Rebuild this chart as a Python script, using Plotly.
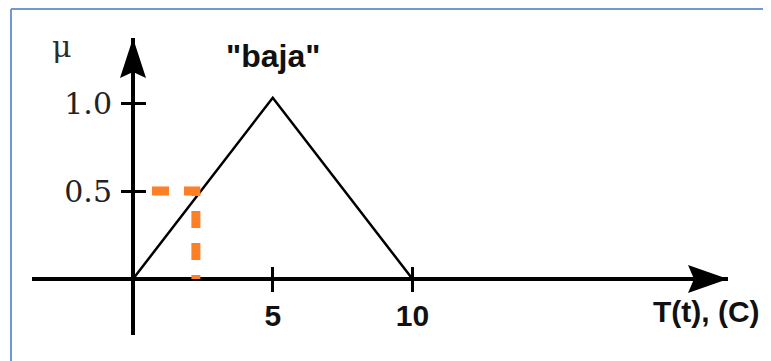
import plotly.graph_objects as go

# ---- data ----
tri_x = [0, 5, 10]
tri_mu = [0, 1.03, 0]
cut_x = [0.68, 2.25, 2.25]
cut_mu = [0.5, 0.5, 0]
x_tick_vals = [5, 10]
x_tick_text = ["5", "10"]
y_tick_vals = [0.5, 1.0]
y_tick_text = ["0.5", "1.0"]
set_label = '"baja"'
x_title = "T(t), (C)"
y_title = "μ"

# ---- geometry (pixels, page coords; the page body adds an 8px offset) ----
OFF = 8
W, H = 771 - OFF, 361 - OFF


def fx(px):   # page x pixel -> paper fraction
    return (px - OFF) / W


def fy(py):   # page y pixel -> paper fraction
    return 1 - (py - OFF) / H


ox, oy = 133, 279          # origin (page px)
px_x, px_y = 27.95, 176    # pixels per unit
xl, xr = 32, 728           # x-axis extent (page px)
yt, yb = 38, 335           # y-axis extent (page px)

x_range = [(xl - ox) / px_x, (xr - ox) / px_x]
y_range = [(oy - yb) / px_y, (oy - yt) / px_y]
x_domain = [fx(xl), fx(xr)]
y_domain = [fy(yb), fy(yt)]

fig = go.Figure()
fig.add_trace(go.Scatter(x=tri_x, y=tri_mu, mode="lines",
                         line=dict(color="black", width=2.5),
                         hoverinfo="skip", showlegend=False))
fig.add_trace(go.Scatter(x=cut_x, y=cut_mu, mode="lines",
                         line=dict(color="#ff7f27", width=9, dash="17px,15px"),
                         hoverinfo="skip", showlegend=False))
# dummies for the crossing-tick overlay axes
fig.add_trace(go.Scatter(x=[None], y=[None], xaxis="x2", yaxis="y",
                         showlegend=False, hoverinfo="skip"))
fig.add_trace(go.Scatter(x=[None], y=[None], xaxis="x", yaxis="y2",
                         showlegend=False, hoverinfo="skip"))

tick_common = dict(ticklen=12, tickwidth=3, tickcolor="black",
                   showgrid=False, showline=False, fixedrange=True)

fig.update_layout(
    width=W, height=H,
    margin=dict(l=0, r=0, t=0, b=0),
    paper_bgcolor="white", plot_bgcolor="white",
    showlegend=False,
    xaxis=dict(range=x_range, domain=x_domain, anchor="free",
               position=fy(oy), tickmode="array",
               tickvals=x_tick_vals, ticktext=x_tick_text, ticks="outside",
               tickfont=dict(family="Liberation Sans, Arial", size=30,
                             color="#111111", weight="bold"),
               ticklabelstandoff=-2,
               zeroline=True, zerolinecolor="black", zerolinewidth=4,
               **tick_common),
    xaxis2=dict(range=x_range, overlaying="x", anchor="free",
                position=fy(oy), tickmode="array",
                tickvals=x_tick_vals, ticks="inside",
                showticklabels=False, zeroline=False, **tick_common),
    yaxis=dict(range=y_range, domain=y_domain, anchor="free",
               position=fx(ox), tickmode="array",
               tickvals=y_tick_vals, ticktext=y_tick_text, ticks="outside",
               tickfont=dict(family="DejaVu Serif", size=30, color="#222222"),
               ticklabelstandoff=3,
               zeroline=True, zerolinecolor="black", zerolinewidth=4,
               **tick_common),
    yaxis2=dict(range=y_range, overlaying="y", anchor="free",
                position=fx(ox), tickmode="array",
                tickvals=y_tick_vals, ticks="inside",
                showticklabels=False, zeroline=False, **tick_common),
)

# arrow heads (pixel-sized, anchored at axis ends)
fig.add_shape(type="path", xref="x", yref="y", xsizemode="pixel",
              ysizemode="pixel", xanchor=x_range[1], yanchor=0,
              path="M0,0 L-40,14 L-34,0 L-40,-14 Z",
              fillcolor="black", line=dict(width=0))
fig.add_shape(type="path", xref="x", yref="y", xsizemode="pixel",
              ysizemode="pixel", xanchor=0, yanchor=y_range[1],
              path="M0,0 L-13,-40 L0,-34 L13,-40 Z",
              fillcolor="black", line=dict(width=0))

# frame (left + top edges)
frame = dict(color="#6f98d4", width=2)
fig.add_shape(type="line", xref="paper", yref="paper",
              x0=fx(11), x1=fx(11), y0=0, y1=fy(9), line=frame)
fig.add_shape(type="line", xref="paper", yref="paper",
              x0=fx(11), x1=1, y0=fy(9), y1=fy(9), line=frame)

center = dict(showarrow=False, xanchor="center", yanchor="middle")
fig.add_annotation(text=y_title, xref="paper", yref="paper",
                   x=fx(62), y=fy(46), **center,
                   font=dict(family="DejaVu Serif", size=30, color="#2b2b2b"))
fig.add_annotation(text=set_label, xref="x", yref="paper",
                   x=5, y=fy(56), **center,
                   font=dict(family="Liberation Sans, Arial", size=32,
                             color="#111111", weight="bold"))
fig.add_annotation(text=x_title, xref="paper", yref="paper",
                   x=fx(706), y=fy(311), **center,
                   font=dict(family="Liberation Sans, Arial", size=30,
                             color="#111111", weight="bold"))

fig.write_html("out.html", config={"displayModeBar": False})
